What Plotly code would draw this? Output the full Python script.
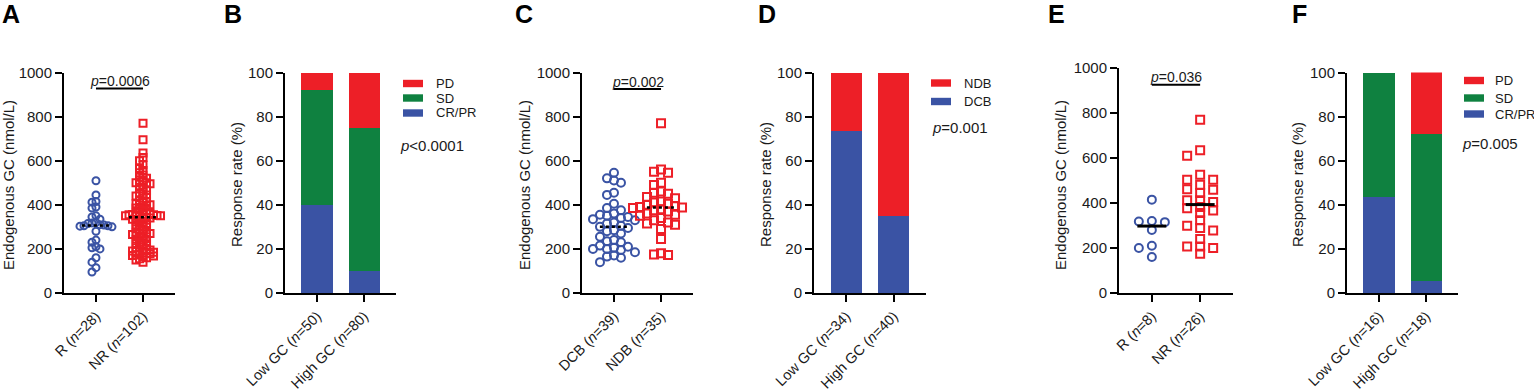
import numpy as np
import plotly.graph_objects as go

# ---------------- data ----------------
A_cats = ["R (<i>n</i>=28)", "NR (<i>n</i>=102)"]
A_R = [509, 445, 415, 412, 390, 385, 350, 345, 335, 320, 318, 315, 310, 308,
       305, 305, 303, 300, 280, 240, 230, 210, 205, 200, 160, 140, 115, 95]
A_NR = [770, 695, 635, 615, 600, 580, 565, 555, 545, 535,
        525, 520, 510, 505, 500, 500, 495, 490,
        480, 470, 465, 455, 450, 445, 440,
        430, 420, 415, 410, 405, 400, 400, 395, 390, 385,
        380, 375, 370, 365, 362, 360, 358, 356, 355, 355, 354, 352, 350, 350, 348,
        345, 342, 340, 338, 335,
        330, 325, 320, 315, 310, 305, 300, 298,
        290, 285, 280, 275, 272, 270, 268, 265, 260, 255, 250,
        245, 240, 235, 230, 225, 220, 215, 210, 205, 200,
        198, 195, 192, 190, 188, 185, 183, 180, 178, 175, 172, 170, 168, 165, 160,
        155, 150, 140]
A_p = "<i>p</i>=0.0006"

B_cats = ["Low GC (<i>n</i>=50)", "High GC (<i>n</i>=80)"]
B_CRPR = [40, 10]
B_SD = [52, 65]
B_PD = [8, 25]
B_p = "<i>p</i><0.0001"

C_cats = ["DCB (<i>n</i>=39)", "NDB (<i>n</i>=35)"]
C_DCB = [545, 520, 510, 500, 455, 445, 405, 385, 375, 360, 355, 350, 345, 340,
         335, 330, 320, 315, 305, 300, 295, 285, 280, 270, 255, 240, 235, 230,
         215, 210, 205, 200, 200, 195, 185, 170, 165, 160, 140]
C_NDB = [770, 560, 550, 545, 500, 490, 460, 455, 450, 435, 430, 415, 410, 405,
         400, 395, 390, 388, 385, 380, 375, 370, 360, 355, 350, 340, 330, 320,
         315, 310, 290, 245, 180, 175, 172]
C_p = "<i>p</i>=0.002"

D_cats = ["Low GC (<i>n</i>=34)", "High GC (<i>n</i>=40)"]
D_DCB = [73.5, 35]
D_NDB = [26.5, 65]
D_p = "<i>p</i>=0.001"

E_cats = ["R (<i>n</i>=8)", "NR (<i>n</i>=26)"]
E_R = [415, 320, 318, 315, 280, 210, 200, 160]
E_NR = [770, 634, 610, 526, 503, 503, 481, 461, 459, 444, 412, 412, 404, 382,
        377, 367, 356, 323, 299, 289, 278, 240, 207, 207, 200, 175]
E_p = "<i>p</i>=0.036"

F_cats = ["Low GC (<i>n</i>=16)", "High GC (<i>n</i>=18)"]
F_CRPR = [43.75, 5.56]
F_SD = [56.25, 66.67]
F_PD = [0, 27.78]
F_p = "<i>p</i>=0.005"

# ---------------- style ----------------
W, H = 1534, 392
BLUE = "#3a53a4"
RED = "#ed1f27"
GREEN = "#0f8140"
TXT = "#1a1a1a"
FONT = "Liberation Sans, Arial, sans-serif"
XR = [-0.68, 1.68]


def fx(px):
    return px / W


def fy(py):
    return 1 - py / H


# panel geometry in pixels: (x0, x1, ytop, ybot)
geo = {
    1: (64, 175, 72.5, 293),
    2: (285, 396, 72.5, 293),
    3: (582, 693, 72.5, 293),
    4: (814, 926, 72.5, 293),
    5: (1119, 1233, 68, 293),
    6: (1347, 1458, 72.5, 293),
}

fig = go.Figure()
layout = {}


def sfx(i):
    return "" if i == 1 else str(i)


def setup_axes(i, ticktext, ymax, dtick):
    x0, x1, yt, yb = geo[i]
    s = sfx(i)
    common = dict(showline=True, linecolor="black", linewidth=2, ticks="outside",
                  ticklen=7, tickwidth=2, tickcolor="black", showgrid=False,
                  zeroline=False, automargin=False)
    layout["xaxis" + s] = dict(domain=[fx(x0), fx(x1)], range=XR, tickvals=[0, 1],
                               ticktext=ticktext, tickangle=-45, anchor="y" + s,
                               fixedrange=True,
                               tickfont=dict(size=14.5, color=TXT, family=FONT), **common)
    layout["yaxis" + s] = dict(domain=[fy(yb), fy(yt)], range=[0, ymax],
                               tickvals=list(range(0, ymax + 1, dtick)),
                               anchor="x" + s, fixedrange=True,
                               tickfont=dict(size=15, color=TXT, family=FONT), **common)


def swarm(vals, center, i, ymax, step, dmin, maxcol=99):
    """Column-based dot layout: each point goes in the nearest column where it
    does not collide with earlier points (GraphPad-like scatter)."""
    x0, x1, yt, yb = geo[i]
    xpx = (x1 - x0) / (XR[1] - XR[0])
    ypx = (yb - yt) / ymax
    placed = {}
    xs = []
    for v in vals:
        y = v * ypx
        best, bestd = 0, -1.0
        chosen = None
        k = 0
        while True:
            c = ((k + 1) // 2) * (1 if k % 2 == 0 else -1)
            if abs(c) > maxcol:
                break
            d = min([abs(y - py) for py in placed.get(c, [])] or [1e9])
            if d >= dmin:
                chosen = c
                break
            if d > bestd:
                best, bestd = c, d
            k += 1
        if chosen is None:
            chosen = best
        placed.setdefault(chosen, []).append(y)
        xs.append(center + chosen * step / xpx)
    return xs


def scatter_panel(i, g0, g1, lay0, lay1, msize, med_dash, med_w):
    s = sfx(i)
    fig.add_trace(go.Scatter(
        x=swarm(g0, 0, i, 1000, *lay0), y=g0, mode="markers",
        marker=dict(symbol="circle-open", size=msize, color=BLUE, line=dict(width=2, color=BLUE)),
        xaxis="x" + s, yaxis="y" + s, showlegend=False, cliponaxis=False))
    fig.add_trace(go.Scatter(
        x=swarm(g1, 1, i, 1000, *lay1), y=g1, mode="markers",
        marker=dict(symbol="square-open", size=msize, color=RED, line=dict(width=2, color=RED)),
        xaxis="x" + s, yaxis="y" + s, showlegend=False, cliponaxis=False))
    for c, g in ((0, g0), (1, g1)):
        m = float(np.median(g))
        fig.add_trace(go.Scatter(
            x=[c - 0.3, c + 0.3], y=[m, m], mode="lines",
            line=dict(color="black", width=med_w, dash=med_dash),
            xaxis="x" + s, yaxis="y" + s, showlegend=False, hoverinfo="skip"))


def bar_panel(i, series):
    s = sfx(i)
    for vals, col, name in series:
        fig.add_trace(go.Bar(
            x=[0, 1], y=vals, width=0.66, marker=dict(color=col, line=dict(width=0)),
            name=name, xaxis="x" + s, yaxis="y" + s, showlegend=False))


# Panel A
setup_axes(1, A_cats, 1000, 200)
scatter_panel(1, A_R, A_NR, (4, 4.5), (3.5, 3.5), 7, "dot", 2.5)
# Panel B
setup_axes(2, B_cats, 100, 20)
bar_panel(2, [(B_CRPR, BLUE, "CR/PR"), (B_SD, GREEN, "SD"), (B_PD, RED, "PD")])
# Panel C
setup_axes(3, C_cats, 1000, 200)
scatter_panel(3, C_DCB, C_NDB, (7, 7), (7, 7), 8, "dot", 2.5)
# Panel D
setup_axes(4, D_cats, 100, 20)
bar_panel(4, [(D_DCB, BLUE, "DCB"), (D_NDB, RED, "NDB")])
# Panel E
setup_axes(5, E_cats, 1000, 200)
scatter_panel(5, E_R, E_NR, (13, 7, 1), (13, 7, 1), 8, "solid", 3)
# Panel F
setup_axes(6, F_cats, 100, 20)
bar_panel(6, [(F_CRPR, BLUE, "CR/PR"), (F_SD, GREEN, "SD"), (F_PD, RED, "PD")])

annotations = []
shapes = []

# panel letters
for letter, px in (("A", 0), ("B", 222), ("C", 513), ("D", 756), ("E", 1046), ("F", 1290)):
    annotations.append(dict(text="<b>%s</b>" % letter, x=fx(px), y=fy(-1.5), xref="paper", yref="paper",
                            xanchor="left", yanchor="top", showarrow=False,
                            font=dict(size=25, color="black", family=FONT)))

# y-axis titles
for xc, t in ((9, "Endogenous GC (nmol/L)"), (237, "Response rate (%)"),
              (525, "Endogenous GC (nmol/L)"), (766, "Response rate (%)"),
              (1061, "Endogenous GC (nmol/L)"), (1298, "Response rate (%)")):
    annotations.append(dict(text=t, x=fx(xc), y=fy(185), xref="paper", yref="paper",
                            xanchor="center", yanchor="middle", textangle=-90, showarrow=False,
                            font=dict(size=15, color=TXT, family=FONT)))

# significance brackets on scatter panels
for i, txt, ytxt, yline in ((1, A_p, 81, 927), (3, C_p, 82, 925), (5, E_p, 77, 926)):
    s = sfx(i)
    shapes.append(dict(type="line", xref="x" + s, yref="y" + s, x0=0, x1=1, y0=yline, y1=yline,
                       line=dict(color="black", width=2)))
    x0, x1, yt, yb = geo[i]
    xpx = (x1 - x0) / (XR[1] - XR[0])
    annotations.append(dict(text=txt, x=fx(x0 + (0.5 - XR[0]) * xpx), y=fy(ytxt), xref="paper",
                            yref="paper", xanchor="center", yanchor="middle", showarrow=False,
                            font=dict(size=14, color=TXT, family=FONT)))

# legends for the bar panels
def legend(items, rx, tx, p_txt, p_x, p_y):
    for name, col, yc in items:
        shapes.append(dict(type="rect", xref="paper", yref="paper", x0=fx(rx), x1=fx(rx + 20),
                           y0=fy(yc + 3.7), y1=fy(yc - 3.7), fillcolor=col, line=dict(width=0)))
        annotations.append(dict(text=name, x=fx(tx), y=fy(yc), xref="paper", yref="paper",
                                xanchor="left", yanchor="middle", showarrow=False,
                                font=dict(size=13, color=TXT, family=FONT)))
    annotations.append(dict(text=p_txt, x=fx(p_x), y=fy(p_y), xref="paper", yref="paper",
                            xanchor="left", yanchor="middle", showarrow=False,
                            font=dict(size=15, color=TXT, family=FONT)))


legend([("PD", RED, 83.5), ("SD", GREEN, 98), ("CR/PR", BLUE, 113)], 403, 434, B_p, 398, 145)
legend([("NDB", RED, 83), ("DCB", BLUE, 101.5)], 931, 962, D_p, 930, 127)
legend([("PD", RED, 80.5), ("SD", GREEN, 98), ("CR/PR", BLUE, 114)], 1464, 1493, F_p, 1460, 143)

fig.update_layout(
    template="none",
    width=W, height=H, margin=dict(l=0, r=0, t=0, b=0, autoexpand=False),
    paper_bgcolor="white", plot_bgcolor="white", barmode="stack",
    font=dict(family=FONT, color=TXT), showlegend=False,
    annotations=annotations, shapes=shapes, **layout)

fig.write_html("out.html", config={"displayModeBar": False},
               post_script="document.body.style.margin='0';document.body.style.overflow='hidden';")
